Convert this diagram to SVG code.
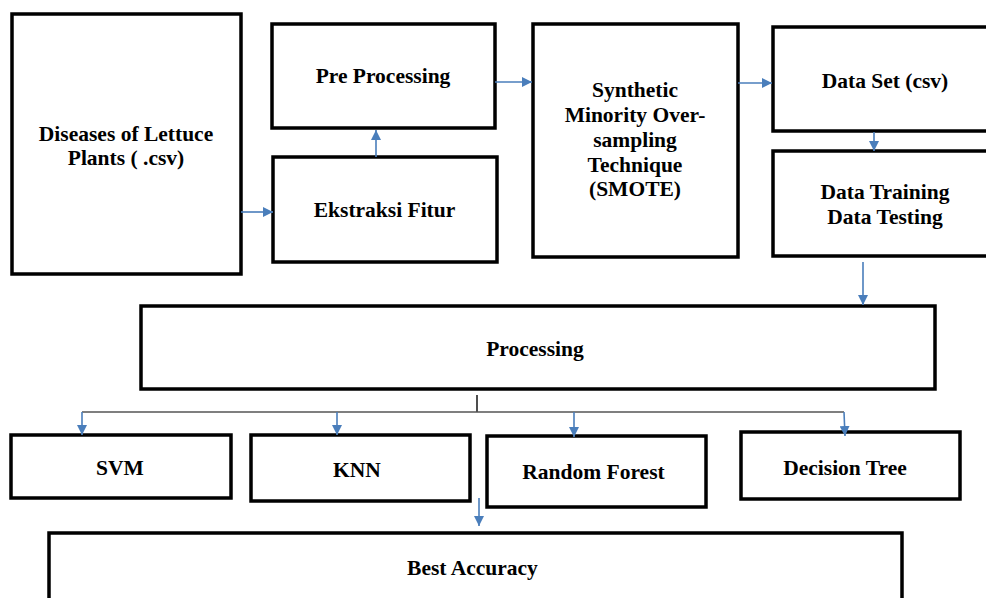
<svg xmlns="http://www.w3.org/2000/svg" width="986" height="598" viewBox="0 0 986 598">
<style>
.box{fill:#fff;stroke:#000;stroke-width:3.5}
.t{font-family:'Liberation Serif','Times New Roman',serif;font-weight:bold;font-size:21.5px;fill:#000;text-anchor:middle}
.c{fill:none;stroke:#4a7ebb;stroke-width:1.6}
.g{fill:none;stroke:#555;stroke-width:1.6}
</style>
<defs>
<marker id="ah" viewBox="0 0 10 10" refX="10" refY="5" markerWidth="10" markerHeight="10" markerUnits="userSpaceOnUse" orient="auto">
<path d="M0,0 L10,5 L0,10 Z" fill="#4a7ebb"/>
</marker>
</defs>
<rect width="986" height="598" fill="#fff"/>
<g id="diseases"><rect class="box" x="12" y="14" width="229" height="260"/>
<text class="t" x="126" y="140.5">Diseases of Lettuce</text><text class="t" x="126" y="164.5">Plants ( .csv)</text></g>
<g id="preprocessing"><rect class="box" x="272" y="24" width="223" height="104"/><text class="t" x="383" y="83">Pre Processing</text></g>
<g id="ekstraksi"><rect class="box" x="273" y="157" width="224" height="105"/><text class="t" x="384.5" y="217">Ekstraksi Fitur</text></g>
<g id="smote"><rect class="box" x="533" y="24" width="205" height="233"/>
<text class="t" x="635" y="97">Synthetic</text><text class="t" x="635" y="122">Minority Over-</text><text class="t" x="635" y="147">sampling</text><text class="t" x="635" y="172">Technique</text><text class="t" x="635" y="196">(SMOTE)</text></g>
<g id="dataset"><rect class="box" x="773" y="27" width="230" height="104"/><text class="t" x="885" y="87.5">Data Set (csv)</text></g>
<g id="training"><rect class="box" x="773" y="151" width="230" height="105"/><text class="t" x="885" y="198.5">Data Training</text><text class="t" x="885" y="223.5">Data Testing</text></g>
<g id="processing"><rect class="box" x="141" y="306" width="794" height="83"/><text class="t" x="535" y="356">Processing</text></g>
<g id="svm"><rect class="box" x="11" y="435" width="220" height="63"/><text class="t" x="120" y="474.5">SVM</text></g>
<g id="knn"><rect class="box" x="251" y="435" width="219" height="66"/><text class="t" x="357" y="476.5">KNN</text></g>
<g id="rf"><rect class="box" x="487" y="436" width="219" height="71"/><text class="t" x="593.5" y="479">Random Forest</text></g>
<g id="dt"><rect class="box" x="741" y="432" width="219" height="67"/><text class="t" x="845" y="474.5">Decision Tree</text></g>
<g id="best"><rect class="box" x="49" y="533" width="853" height="80"/><text class="t" x="472.5" y="575">Best Accuracy</text></g>
<g id="connectors">
<line class="c" x1="241" y1="212" x2="273" y2="212" marker-end="url(#ah)"/>
<line class="c" x1="376" y1="157" x2="376" y2="130" marker-end="url(#ah)"/>
<line class="c" x1="495" y1="82" x2="532" y2="82" marker-end="url(#ah)"/>
<line class="c" x1="738" y1="83" x2="772" y2="83" marker-end="url(#ah)"/>
<line class="c" x1="874" y1="132" x2="874" y2="151" marker-end="url(#ah)"/>
<line class="c" x1="863" y1="262" x2="863" y2="305" marker-end="url(#ah)"/>
<line class="g" x1="477" y1="395" x2="477" y2="412" style="stroke:#222"/>
<line class="g" x1="82" y1="412" x2="844" y2="412"/>
<line class="c" x1="82" y1="412" x2="82" y2="435" marker-end="url(#ah)"/>
<line class="c" x1="337" y1="412" x2="337" y2="435" marker-end="url(#ah)"/>
<line class="c" x1="574" y1="412" x2="574" y2="437" marker-end="url(#ah)"/>
<line class="c" x1="844" y1="412" x2="845" y2="436" marker-end="url(#ah)"/>
<line class="c" x1="479" y1="498" x2="479" y2="526" marker-end="url(#ah)"/>
</g>
</svg>
